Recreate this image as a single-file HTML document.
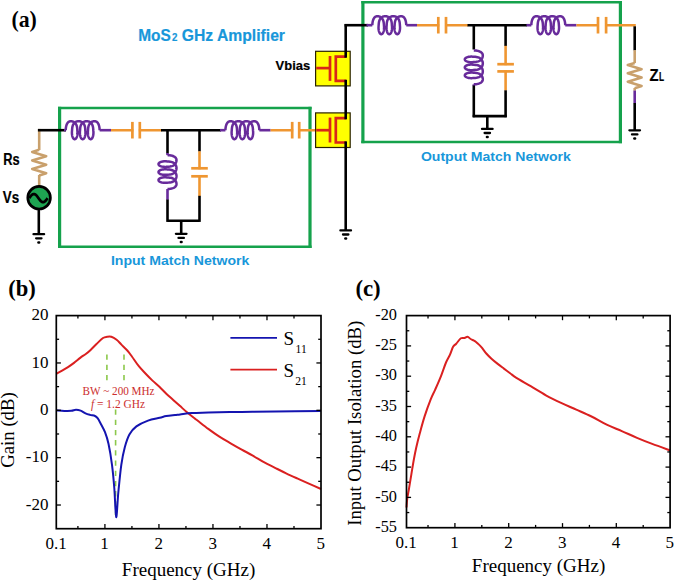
<!DOCTYPE html>
<html><head><meta charset="utf-8"><title>MoS2 GHz Amplifier</title>
<style>html,body{margin:0;padding:0;background:#fff;overflow:hidden}svg{display:block}</style>
</head><body>
<svg width="675" height="581" viewBox="0 0 675 581">
<rect width="675" height="581" fill="#fff"/>
<line x1="58" y1="108" x2="311.6" y2="108" stroke="#15a24c" stroke-width="2.4" stroke-linecap="butt"/>
<line x1="58" y1="246.8" x2="311.6" y2="246.8" stroke="#15a24c" stroke-width="2.4" stroke-linecap="butt"/>
<line x1="59.6" y1="106.8" x2="59.6" y2="248" stroke="#15a24c" stroke-width="3.2" stroke-linecap="butt"/>
<line x1="310" y1="106.8" x2="310" y2="248" stroke="#15a24c" stroke-width="3.2" stroke-linecap="butt"/>
<line x1="361.3" y1="2.2" x2="622" y2="2.2" stroke="#15a24c" stroke-width="2.4" stroke-linecap="butt"/>
<line x1="361.3" y1="142" x2="622" y2="142" stroke="#15a24c" stroke-width="2.4" stroke-linecap="butt"/>
<line x1="362.9" y1="1" x2="362.9" y2="143.2" stroke="#15a24c" stroke-width="3.2" stroke-linecap="butt"/>
<line x1="620.4" y1="1" x2="620.4" y2="143.2" stroke="#15a24c" stroke-width="3.2" stroke-linecap="butt"/>
<polyline points="39.2,149.8 32.2,151.9 46.2,156.16 32.2,160.42 46.2,164.68 32.2,168.94 46.2,173.2 39.2,175.6" fill="none" stroke="#c9a06c" stroke-width="2.6" stroke-linejoin="round" stroke-linecap="butt"/>
<line x1="39.2" y1="128.9" x2="39.2" y2="150" stroke="#c9a06c" stroke-width="2.6" stroke-linecap="butt"/>
<line x1="39.2" y1="175" x2="39.2" y2="186" stroke="#c9a06c" stroke-width="2.6" stroke-linecap="butt"/>
<line x1="37.9" y1="130.2" x2="66" y2="130.2" stroke="#000" stroke-width="2.6" stroke-linecap="butt"/>
<circle cx="39.1" cy="197.7" r="11.3" fill="#1ea552" stroke="#000" stroke-width="2.7"/>
<path d="M29.3,198.1 L29.76,197.46 L30.21,196.83 L30.67,196.24 L31.13,195.69 L31.59,195.2 L32.05,194.78 L32.5,194.45 L32.96,194.2 L33.42,194.05 L33.88,194 L34.33,194.05 L34.79,194.2 L35.25,194.45 L35.7,194.78 L36.16,195.2 L36.62,195.69 L37.08,196.24 L37.54,196.83 L37.99,197.46 L38.45,198.1 L38.91,198.74 L39.37,199.37 L39.82,199.96 L40.28,200.51 L40.74,201 L41.2,201.42 L41.65,201.75 L42.11,202 L42.57,202.15 L43.02,202.2 L43.48,202.15 L43.94,202 L44.4,201.75 L44.86,201.42 L45.31,201 L45.77,200.51 L46.23,199.96 L46.69,199.37 L47.14,198.74 L47.6,198.1" fill="none" stroke="#000" stroke-width="2.7" stroke-linejoin="round"/>
<line x1="38.8" y1="209.3" x2="38.8" y2="234.2" stroke="#000" stroke-width="2.6" stroke-linecap="butt"/>
<line x1="33.5" y1="234.2" x2="44.1" y2="234.2" stroke="#000" stroke-width="2.3" stroke-linecap="round"/>
<line x1="36.1" y1="238.3" x2="41.5" y2="238.3" stroke="#000" stroke-width="2.3" stroke-linecap="round"/>
<line x1="38.45" y1="242.4" x2="39.15" y2="242.4" stroke="#000" stroke-width="2.5" stroke-linecap="round"/>
<path d="M65.72,130.2 L65.75,129.38 L65.81,128.56 L65.91,127.76 L66.03,126.97 L66.19,126.22 L66.38,125.5 L66.6,124.82 L66.86,124.18 L67.16,123.59 L67.48,123.06 L67.85,122.59 L68.24,122.18 L68.67,121.84 L69.12,121.57 L69.6,121.37 L70.11,121.25 L70.63,121.2 L71.17,121.22 L71.71,121.28 L72.23,121.39 L72.75,121.54 L73.26,121.74 L73.74,121.98 L74.21,122.27 L74.66,122.62 L75.08,123.01 L75.47,123.45 L75.83,123.95 L76.16,124.51 L76.46,125.14 L76.72,125.86 L76.94,126.69 L77.12,127.71 L77.27,129.19 L77.38,130.79 L77.45,131.61 L77.48,132.42 L77.47,133.2 L77.43,133.97 L77.35,134.7 L77.24,135.39 L77.1,136.05 L76.93,136.65 L76.73,137.19 L76.51,137.68 L76.26,138.11 L76,138.47 L75.72,138.76 L75.43,138.98 L75.13,139.12 L74.83,139.19 L74.53,139.19 L74.22,139.11 L73.93,138.95 L73.64,138.72 L73.36,138.42 L73.1,138.05 L72.86,137.62 L72.64,137.12 L72.44,136.56 L72.28,135.95 L72.14,135.3 L72.03,134.6 L71.96,133.86 L71.92,133.09 L71.92,132.3 L71.96,131.49 L72.03,130.67 L72.15,128.91 L72.3,127.55 L72.49,126.56 L72.72,125.75 L72.98,125.05 L73.28,124.43 L73.62,123.87 L73.98,123.38 L74.38,122.95 L74.8,122.56 L75.25,122.23 L75.72,121.94 L76.22,121.71 L76.72,121.51 L77.24,121.37 L77.77,121.27 L78.31,121.21 L78.84,121.2 L79.38,121.24 L79.91,121.32 L80.44,121.45 L80.95,121.62 L81.45,121.84 L81.93,122.1 L82.39,122.41 L82.82,122.78 L83.23,123.19 L83.61,123.66 L83.96,124.18 L84.27,124.77 L84.55,125.44 L84.8,126.2 L85,127.1 L85.17,128.25 L85.3,130.32 L85.39,131.14 L85.45,131.96 L85.46,132.76 L85.44,133.54 L85.38,134.29 L85.29,135 L85.17,135.68 L85.01,136.31 L84.83,136.89 L84.62,137.41 L84.38,137.87 L84.13,138.27 L83.86,138.6 L83.58,138.86 L83.29,139.05 L82.98,139.16 L82.68,139.2 L82.38,139.16 L82.07,139.05 L81.78,138.86 L81.5,138.6 L81.23,138.27 L80.97,137.87 L80.74,137.41 L80.53,136.89 L80.35,136.31 L80.19,135.68 L80.07,135 L79.98,134.29 L79.92,133.54 L79.9,132.76 L79.91,131.96 L79.97,131.14 L80.06,130.32 L80.19,128.25 L80.36,127.1 L80.56,126.2 L80.81,125.44 L81.09,124.77 L81.4,124.18 L81.75,123.66 L82.13,123.19 L82.54,122.78 L82.97,122.41 L83.43,122.1 L83.91,121.84 L84.41,121.62 L84.92,121.45 L85.45,121.32 L85.98,121.24 L86.52,121.2 L87.05,121.21 L87.59,121.27 L88.12,121.37 L88.64,121.51 L89.14,121.71 L89.63,121.94 L90.11,122.23 L90.55,122.56 L90.98,122.95 L91.37,123.38 L91.74,123.87 L92.08,124.43 L92.38,125.05 L92.64,125.75 L92.87,126.56 L93.06,127.55 L93.21,128.91 L93.32,130.67 L93.4,131.49 L93.44,132.3 L93.44,133.09 L93.4,133.86 L93.33,134.6 L93.22,135.3 L93.08,135.95 L92.91,136.56 L92.72,137.12 L92.5,137.62 L92.26,138.05 L92,138.42 L91.72,138.72 L91.43,138.95 L91.14,139.11 L90.83,139.19 L90.53,139.19 L90.23,139.12 L89.93,138.98 L89.64,138.76 L89.36,138.47 L89.1,138.11 L88.85,137.68 L88.63,137.19 L88.43,136.65 L88.26,136.05 L88.12,135.39 L88.01,134.7 L87.93,133.97 L87.89,133.2 L87.88,132.42 L87.91,131.61 L87.98,130.79 L88.09,129.19 L88.24,127.71 L88.42,126.69 L88.64,125.86 L88.9,125.14 L89.2,124.51 L89.53,123.95 L89.89,123.45 L90.28,123.01 L90.7,122.62 L91.15,122.27 L91.62,121.98 L92.1,121.74 L92.61,121.54 L93.13,121.39 L93.65,121.28 L94.19,121.22 L94.73,121.2 L95.25,121.25 L95.76,121.37 L96.24,121.57 L96.69,121.84 L97.12,122.18 L97.51,122.59 L97.87,123.06 L98.2,123.59 L98.5,124.18 L98.76,124.82 L98.98,125.5 L99.17,126.22 L99.33,126.97 L99.45,127.76 L99.54,128.56 L99.61,129.38 L99.64,130.2" fill="none" stroke="#682b9b" stroke-width="2.5" stroke-linejoin="round"/>
<line x1="64" y1="130.2" x2="65.72" y2="130.2" stroke="#682b9b" stroke-width="2.6" stroke-linecap="butt"/>
<line x1="99.64" y1="130.2" x2="111" y2="130.2" stroke="#682b9b" stroke-width="2.6" stroke-linecap="butt"/>
<line x1="111" y1="130.2" x2="161.7" y2="130.2" stroke="#ef9631" stroke-width="2.6" stroke-linecap="butt"/>
<rect x="133.4" y="128.2" width="5.4" height="4" fill="#fff"/>
<line x1="132.4" y1="121.9" x2="132.4" y2="138.5" stroke="#ef9631" stroke-width="2.7" stroke-linecap="butt"/>
<line x1="139.8" y1="121.9" x2="139.8" y2="138.5" stroke="#ef9631" stroke-width="2.7" stroke-linecap="butt"/>
<line x1="161" y1="130.2" x2="221" y2="130.2" stroke="#000" stroke-width="2.6" stroke-linecap="butt"/>
<line x1="167.5" y1="130.2" x2="167.5" y2="153.5" stroke="#000" stroke-width="2.6" stroke-linecap="butt"/>
<path d="M167.5,155.12 L168.32,155.15 L169.14,155.21 L169.94,155.31 L170.73,155.43 L171.48,155.59 L172.2,155.78 L172.88,156 L173.52,156.26 L174.11,156.56 L174.64,156.88 L175.11,157.25 L175.52,157.64 L175.86,158.07 L176.13,158.52 L176.33,159 L176.45,159.51 L176.5,160.03 L176.48,160.57 L176.42,161.11 L176.31,161.63 L176.16,162.15 L175.96,162.66 L175.72,163.14 L175.43,163.61 L175.08,164.06 L174.69,164.48 L174.25,164.87 L173.75,165.23 L173.19,165.56 L172.56,165.86 L171.84,166.12 L171.01,166.34 L169.99,166.52 L168.51,166.67 L166.91,166.78 L166.09,166.85 L165.28,166.88 L164.5,166.87 L163.73,166.83 L163,166.75 L162.31,166.64 L161.65,166.5 L161.05,166.33 L160.51,166.13 L160.02,165.91 L159.59,165.66 L159.23,165.4 L158.94,165.12 L158.72,164.83 L158.58,164.53 L158.51,164.23 L158.51,163.93 L158.59,163.62 L158.75,163.33 L158.98,163.04 L159.28,162.76 L159.65,162.5 L160.08,162.26 L160.58,162.04 L161.14,161.84 L161.75,161.68 L162.4,161.54 L163.1,161.43 L163.84,161.36 L164.61,161.32 L165.4,161.32 L166.21,161.36 L167.03,161.43 L168.79,161.55 L170.15,161.7 L171.14,161.89 L171.95,162.12 L172.65,162.38 L173.27,162.68 L173.83,163.02 L174.32,163.38 L174.75,163.78 L175.14,164.2 L175.47,164.65 L175.76,165.12 L175.99,165.62 L176.19,166.12 L176.33,166.64 L176.43,167.17 L176.49,167.71 L176.5,168.24 L176.46,168.78 L176.38,169.31 L176.25,169.84 L176.08,170.35 L175.86,170.85 L175.6,171.33 L175.29,171.79 L174.92,172.22 L174.51,172.63 L174.04,173.01 L173.52,173.36 L172.93,173.67 L172.26,173.95 L171.5,174.2 L170.6,174.4 L169.45,174.57 L167.38,174.7 L166.56,174.79 L165.74,174.85 L164.94,174.86 L164.16,174.84 L163.41,174.78 L162.7,174.69 L162.02,174.57 L161.39,174.41 L160.81,174.23 L160.29,174.02 L159.83,173.78 L159.43,173.53 L159.1,173.26 L158.84,172.98 L158.65,172.69 L158.54,172.38 L158.5,172.08 L158.54,171.78 L158.65,171.47 L158.84,171.18 L159.1,170.9 L159.43,170.63 L159.83,170.37 L160.29,170.14 L160.81,169.93 L161.39,169.75 L162.02,169.59 L162.7,169.47 L163.41,169.38 L164.16,169.32 L164.94,169.3 L165.74,169.31 L166.56,169.37 L167.38,169.46 L169.45,169.59 L170.6,169.76 L171.5,169.96 L172.26,170.21 L172.93,170.49 L173.52,170.8 L174.04,171.15 L174.51,171.53 L174.92,171.94 L175.29,172.37 L175.6,172.83 L175.86,173.31 L176.08,173.81 L176.25,174.32 L176.38,174.85 L176.46,175.38 L176.5,175.92 L176.49,176.45 L176.43,176.99 L176.33,177.52 L176.19,178.04 L175.99,178.54 L175.76,179.03 L175.47,179.51 L175.14,179.95 L174.75,180.38 L174.32,180.77 L173.83,181.14 L173.27,181.48 L172.65,181.78 L171.95,182.04 L171.14,182.27 L170.15,182.46 L168.79,182.61 L167.03,182.72 L166.21,182.8 L165.4,182.84 L164.61,182.84 L163.84,182.8 L163.1,182.73 L162.4,182.62 L161.75,182.48 L161.14,182.31 L160.58,182.12 L160.08,181.9 L159.65,181.66 L159.28,181.4 L158.98,181.12 L158.75,180.83 L158.59,180.54 L158.51,180.23 L158.51,179.93 L158.58,179.63 L158.72,179.33 L158.94,179.04 L159.23,178.76 L159.59,178.5 L160.02,178.25 L160.51,178.03 L161.05,177.83 L161.65,177.66 L162.31,177.52 L163,177.41 L163.73,177.33 L164.5,177.29 L165.28,177.28 L166.09,177.31 L166.91,177.38 L168.51,177.49 L169.99,177.64 L171.01,177.82 L171.84,178.04 L172.56,178.3 L173.19,178.6 L173.75,178.93 L174.25,179.29 L174.69,179.68 L175.08,180.1 L175.43,180.55 L175.72,181.02 L175.96,181.5 L176.16,182.01 L176.31,182.53 L176.42,183.05 L176.48,183.59 L176.5,184.13 L176.45,184.65 L176.33,185.16 L176.13,185.64 L175.86,186.09 L175.52,186.52 L175.11,186.91 L174.64,187.27 L174.11,187.6 L173.52,187.9 L172.88,188.16 L172.2,188.38 L171.48,188.57 L170.73,188.73 L169.94,188.85 L169.14,188.94 L168.32,189.01 L167.5,189.04" fill="none" stroke="#682b9b" stroke-width="2.5" stroke-linejoin="round"/>
<line x1="167.5" y1="153" x2="167.5" y2="155.12" stroke="#682b9b" stroke-width="2.6" stroke-linecap="butt"/>
<line x1="167.5" y1="189.04" x2="167.5" y2="199.8" stroke="#682b9b" stroke-width="2.6" stroke-linecap="butt"/>
<line x1="167.5" y1="199.5" x2="167.5" y2="221.9" stroke="#000" stroke-width="2.6" stroke-linecap="butt"/>
<line x1="199.5" y1="130.2" x2="199.5" y2="151.5" stroke="#000" stroke-width="2.6" stroke-linecap="butt"/>
<line x1="199.5" y1="151.3" x2="199.5" y2="196" stroke="#ef9631" stroke-width="2.6" stroke-linecap="butt"/>
<rect x="197.5" y="169.3" width="4" height="6" fill="#fff"/>
<line x1="191.2" y1="168.3" x2="207.8" y2="168.3" stroke="#ef9631" stroke-width="2.7" stroke-linecap="butt"/>
<line x1="191.2" y1="176.3" x2="207.8" y2="176.3" stroke="#ef9631" stroke-width="2.7" stroke-linecap="butt"/>
<line x1="199.5" y1="195.8" x2="199.5" y2="221.9" stroke="#000" stroke-width="2.6" stroke-linecap="butt"/>
<polyline points="167.5,220.8 199.5,220.8" fill="none" stroke="#000" stroke-width="2.6" stroke-linejoin="miter" stroke-linecap="butt"/>
<line x1="181.2" y1="220.8" x2="181.2" y2="233.8" stroke="#000" stroke-width="2.6" stroke-linecap="butt"/>
<line x1="175.9" y1="233.8" x2="186.5" y2="233.8" stroke="#000" stroke-width="2.3" stroke-linecap="round"/>
<line x1="178.5" y1="237.9" x2="183.9" y2="237.9" stroke="#000" stroke-width="2.3" stroke-linecap="round"/>
<line x1="180.85" y1="242" x2="181.55" y2="242" stroke="#000" stroke-width="2.5" stroke-linecap="round"/>
<path d="M225.42,130.2 L225.45,129.38 L225.51,128.56 L225.61,127.76 L225.73,126.97 L225.89,126.22 L226.08,125.5 L226.3,124.82 L226.56,124.18 L226.86,123.59 L227.18,123.06 L227.55,122.59 L227.94,122.18 L228.37,121.84 L228.82,121.57 L229.3,121.37 L229.81,121.25 L230.33,121.2 L230.87,121.22 L231.41,121.28 L231.93,121.39 L232.45,121.54 L232.96,121.74 L233.44,121.98 L233.91,122.27 L234.36,122.62 L234.78,123.01 L235.17,123.45 L235.53,123.95 L235.86,124.51 L236.16,125.14 L236.42,125.86 L236.64,126.69 L236.82,127.71 L236.97,129.19 L237.08,130.79 L237.15,131.61 L237.18,132.42 L237.17,133.2 L237.13,133.97 L237.05,134.7 L236.94,135.39 L236.8,136.05 L236.63,136.65 L236.43,137.19 L236.21,137.68 L235.96,138.11 L235.7,138.47 L235.42,138.76 L235.13,138.98 L234.83,139.12 L234.53,139.19 L234.23,139.19 L233.92,139.11 L233.63,138.95 L233.34,138.72 L233.06,138.42 L232.8,138.05 L232.56,137.62 L232.34,137.12 L232.14,136.56 L231.98,135.95 L231.84,135.3 L231.73,134.6 L231.66,133.86 L231.62,133.09 L231.62,132.3 L231.66,131.49 L231.73,130.67 L231.85,128.91 L232,127.55 L232.19,126.56 L232.42,125.75 L232.68,125.05 L232.98,124.43 L233.32,123.87 L233.68,123.38 L234.08,122.95 L234.5,122.56 L234.95,122.23 L235.42,121.94 L235.92,121.71 L236.42,121.51 L236.94,121.37 L237.47,121.27 L238.01,121.21 L238.54,121.2 L239.08,121.24 L239.61,121.32 L240.14,121.45 L240.65,121.62 L241.15,121.84 L241.63,122.1 L242.09,122.41 L242.52,122.78 L242.93,123.19 L243.31,123.66 L243.66,124.18 L243.97,124.77 L244.25,125.44 L244.5,126.2 L244.7,127.1 L244.87,128.25 L245,130.32 L245.09,131.14 L245.15,131.96 L245.16,132.76 L245.14,133.54 L245.08,134.29 L244.99,135 L244.87,135.68 L244.71,136.31 L244.53,136.89 L244.32,137.41 L244.08,137.87 L243.83,138.27 L243.56,138.6 L243.28,138.86 L242.99,139.05 L242.68,139.16 L242.38,139.2 L242.08,139.16 L241.77,139.05 L241.48,138.86 L241.2,138.6 L240.93,138.27 L240.67,137.87 L240.44,137.41 L240.23,136.89 L240.05,136.31 L239.89,135.68 L239.77,135 L239.68,134.29 L239.62,133.54 L239.6,132.76 L239.61,131.96 L239.67,131.14 L239.76,130.32 L239.89,128.25 L240.06,127.1 L240.26,126.2 L240.51,125.44 L240.79,124.77 L241.1,124.18 L241.45,123.66 L241.83,123.19 L242.24,122.78 L242.67,122.41 L243.13,122.1 L243.61,121.84 L244.11,121.62 L244.62,121.45 L245.15,121.32 L245.68,121.24 L246.22,121.2 L246.75,121.21 L247.29,121.27 L247.82,121.37 L248.34,121.51 L248.84,121.71 L249.33,121.94 L249.81,122.23 L250.25,122.56 L250.68,122.95 L251.07,123.38 L251.44,123.87 L251.78,124.43 L252.08,125.05 L252.34,125.75 L252.57,126.56 L252.76,127.55 L252.91,128.91 L253.02,130.67 L253.1,131.49 L253.14,132.3 L253.14,133.09 L253.1,133.86 L253.03,134.6 L252.92,135.3 L252.78,135.95 L252.61,136.56 L252.42,137.12 L252.2,137.62 L251.96,138.05 L251.7,138.42 L251.42,138.72 L251.13,138.95 L250.84,139.11 L250.53,139.19 L250.23,139.19 L249.93,139.12 L249.63,138.98 L249.34,138.76 L249.06,138.47 L248.8,138.11 L248.55,137.68 L248.33,137.19 L248.13,136.65 L247.96,136.05 L247.82,135.39 L247.71,134.7 L247.63,133.97 L247.59,133.2 L247.58,132.42 L247.61,131.61 L247.68,130.79 L247.79,129.19 L247.94,127.71 L248.12,126.69 L248.34,125.86 L248.6,125.14 L248.9,124.51 L249.23,123.95 L249.59,123.45 L249.98,123.01 L250.4,122.62 L250.85,122.27 L251.32,121.98 L251.8,121.74 L252.31,121.54 L252.83,121.39 L253.35,121.28 L253.89,121.22 L254.43,121.2 L254.95,121.25 L255.46,121.37 L255.94,121.57 L256.39,121.84 L256.82,122.18 L257.21,122.59 L257.57,123.06 L257.9,123.59 L258.2,124.18 L258.46,124.82 L258.68,125.5 L258.87,126.22 L259.03,126.97 L259.15,127.76 L259.24,128.56 L259.31,129.38 L259.34,130.2" fill="none" stroke="#682b9b" stroke-width="2.5" stroke-linejoin="round"/>
<line x1="220" y1="130.2" x2="225.42" y2="130.2" stroke="#682b9b" stroke-width="2.6" stroke-linecap="butt"/>
<line x1="259.34" y1="130.2" x2="270.6" y2="130.2" stroke="#682b9b" stroke-width="2.6" stroke-linecap="butt"/>
<line x1="270.6" y1="130.2" x2="317.5" y2="130.2" stroke="#ef9631" stroke-width="2.6" stroke-linecap="butt"/>
<rect x="293.2" y="128.2" width="5" height="4" fill="#fff"/>
<line x1="292.2" y1="121.9" x2="292.2" y2="138.5" stroke="#ef9631" stroke-width="2.7" stroke-linecap="butt"/>
<line x1="299.2" y1="121.9" x2="299.2" y2="138.5" stroke="#ef9631" stroke-width="2.7" stroke-linecap="butt"/>
<rect x="315.6" y="112.9" width="34.6" height="34.6" fill="#ffff00" stroke="#2a2200" stroke-width="1.2"/>
<line x1="316.2" y1="130.2" x2="330.1" y2="130.2" stroke="#d8261a" stroke-width="2.7" stroke-linecap="butt"/>
<line x1="330" y1="117.6" x2="330" y2="142.5" stroke="#d8261a" stroke-width="2.7" stroke-linecap="butt"/>
<polyline points="346.2,118.2 335.8,118.2 335.8,142.5 346.2,142.5" fill="none" stroke="#d8261a" stroke-width="2.7" stroke-linejoin="miter" stroke-linecap="butt"/>
<rect x="315.6" y="51.3" width="34.6" height="34.6" fill="#ffff00" stroke="#2a2200" stroke-width="1.2"/>
<line x1="316.2" y1="68.1" x2="330.1" y2="68.1" stroke="#d8261a" stroke-width="2.7" stroke-linecap="butt"/>
<line x1="330" y1="56" x2="330" y2="80.9" stroke="#d8261a" stroke-width="2.7" stroke-linecap="butt"/>
<polyline points="346.2,56.6 335.8,56.6 335.8,80.9 346.2,80.9" fill="none" stroke="#d8261a" stroke-width="2.7" stroke-linejoin="miter" stroke-linecap="butt"/>
<line x1="345.7" y1="24.1" x2="345.7" y2="57.7" stroke="#000" stroke-width="2.6" stroke-linecap="butt"/>
<line x1="345.7" y1="79.8" x2="345.7" y2="119.3" stroke="#000" stroke-width="2.6" stroke-linecap="butt"/>
<line x1="345.7" y1="141.4" x2="345.7" y2="230.4" stroke="#000" stroke-width="2.6" stroke-linecap="butt"/>
<line x1="344.6" y1="25.2" x2="368" y2="25.2" stroke="#000" stroke-width="2.6" stroke-linecap="butt"/>
<line x1="340.4" y1="230.4" x2="351" y2="230.4" stroke="#000" stroke-width="2.3" stroke-linecap="round"/>
<line x1="343" y1="234.5" x2="348.4" y2="234.5" stroke="#000" stroke-width="2.3" stroke-linecap="round"/>
<line x1="345.35" y1="238.6" x2="346.05" y2="238.6" stroke="#000" stroke-width="2.5" stroke-linecap="round"/>
<path d="M372.32,25.2 L372.35,24.38 L372.41,23.56 L372.51,22.76 L372.63,21.97 L372.79,21.22 L372.98,20.5 L373.2,19.82 L373.46,19.18 L373.76,18.59 L374.08,18.06 L374.45,17.59 L374.84,17.18 L375.27,16.84 L375.72,16.57 L376.2,16.37 L376.71,16.25 L377.23,16.2 L377.77,16.22 L378.31,16.28 L378.83,16.39 L379.35,16.54 L379.86,16.74 L380.34,16.98 L380.81,17.27 L381.26,17.62 L381.68,18.01 L382.07,18.45 L382.43,18.95 L382.76,19.51 L383.06,20.14 L383.32,20.86 L383.54,21.69 L383.72,22.71 L383.87,24.19 L383.98,25.79 L384.05,26.61 L384.08,27.42 L384.07,28.2 L384.03,28.97 L383.95,29.7 L383.84,30.39 L383.7,31.05 L383.53,31.65 L383.33,32.19 L383.11,32.68 L382.86,33.11 L382.6,33.47 L382.32,33.76 L382.03,33.98 L381.73,34.12 L381.43,34.19 L381.13,34.19 L380.82,34.11 L380.53,33.95 L380.24,33.72 L379.96,33.42 L379.7,33.05 L379.46,32.62 L379.24,32.12 L379.04,31.56 L378.88,30.95 L378.74,30.3 L378.63,29.6 L378.56,28.86 L378.52,28.09 L378.52,27.3 L378.56,26.49 L378.63,25.67 L378.75,23.91 L378.9,22.55 L379.09,21.56 L379.32,20.75 L379.58,20.05 L379.88,19.43 L380.22,18.87 L380.58,18.38 L380.98,17.95 L381.4,17.56 L381.85,17.23 L382.32,16.94 L382.82,16.71 L383.32,16.51 L383.84,16.37 L384.37,16.27 L384.91,16.21 L385.44,16.2 L385.98,16.24 L386.51,16.32 L387.04,16.45 L387.55,16.62 L388.05,16.84 L388.53,17.1 L388.99,17.41 L389.42,17.78 L389.83,18.19 L390.21,18.66 L390.56,19.18 L390.87,19.77 L391.15,20.44 L391.4,21.2 L391.6,22.1 L391.77,23.25 L391.9,25.32 L391.99,26.14 L392.05,26.96 L392.06,27.76 L392.04,28.54 L391.98,29.29 L391.89,30 L391.77,30.68 L391.61,31.31 L391.43,31.89 L391.22,32.41 L390.98,32.87 L390.73,33.27 L390.46,33.6 L390.18,33.86 L389.89,34.05 L389.58,34.16 L389.28,34.2 L388.98,34.16 L388.67,34.05 L388.38,33.86 L388.1,33.6 L387.83,33.27 L387.57,32.87 L387.34,32.41 L387.13,31.89 L386.95,31.31 L386.79,30.68 L386.67,30 L386.58,29.29 L386.52,28.54 L386.5,27.76 L386.51,26.96 L386.57,26.14 L386.66,25.32 L386.79,23.25 L386.96,22.1 L387.16,21.2 L387.41,20.44 L387.69,19.77 L388,19.18 L388.35,18.66 L388.73,18.19 L389.14,17.78 L389.57,17.41 L390.03,17.1 L390.51,16.84 L391.01,16.62 L391.52,16.45 L392.05,16.32 L392.58,16.24 L393.12,16.2 L393.65,16.21 L394.19,16.27 L394.72,16.37 L395.24,16.51 L395.74,16.71 L396.23,16.94 L396.71,17.23 L397.15,17.56 L397.58,17.95 L397.97,18.38 L398.34,18.87 L398.68,19.43 L398.98,20.05 L399.24,20.75 L399.47,21.56 L399.66,22.55 L399.81,23.91 L399.92,25.67 L400,26.49 L400.04,27.3 L400.04,28.09 L400,28.86 L399.93,29.6 L399.82,30.3 L399.68,30.95 L399.51,31.56 L399.32,32.12 L399.1,32.62 L398.86,33.05 L398.6,33.42 L398.32,33.72 L398.03,33.95 L397.74,34.11 L397.43,34.19 L397.13,34.19 L396.83,34.12 L396.53,33.98 L396.24,33.76 L395.96,33.47 L395.7,33.11 L395.45,32.68 L395.23,32.19 L395.03,31.65 L394.86,31.05 L394.72,30.39 L394.61,29.7 L394.53,28.97 L394.49,28.2 L394.48,27.42 L394.51,26.61 L394.58,25.79 L394.69,24.19 L394.84,22.71 L395.02,21.69 L395.24,20.86 L395.5,20.14 L395.8,19.51 L396.13,18.95 L396.49,18.45 L396.88,18.01 L397.3,17.62 L397.75,17.27 L398.22,16.98 L398.7,16.74 L399.21,16.54 L399.73,16.39 L400.25,16.28 L400.79,16.22 L401.33,16.2 L401.85,16.25 L402.36,16.37 L402.84,16.57 L403.29,16.84 L403.72,17.18 L404.11,17.59 L404.47,18.06 L404.8,18.59 L405.1,19.18 L405.36,19.82 L405.58,20.5 L405.77,21.22 L405.93,21.97 L406.05,22.76 L406.14,23.56 L406.21,24.38 L406.24,25.2" fill="none" stroke="#682b9b" stroke-width="2.5" stroke-linejoin="round"/>
<line x1="366.5" y1="25.2" x2="372.32" y2="25.2" stroke="#682b9b" stroke-width="2.6" stroke-linecap="butt"/>
<line x1="406.24" y1="25.2" x2="417" y2="25.2" stroke="#682b9b" stroke-width="2.6" stroke-linecap="butt"/>
<line x1="417" y1="25.2" x2="468" y2="25.2" stroke="#ef9631" stroke-width="2.6" stroke-linecap="butt"/>
<rect x="439.3" y="23.2" width="5.7" height="4" fill="#fff"/>
<line x1="438.3" y1="16.9" x2="438.3" y2="33.5" stroke="#ef9631" stroke-width="2.7" stroke-linecap="butt"/>
<line x1="446" y1="16.9" x2="446" y2="33.5" stroke="#ef9631" stroke-width="2.7" stroke-linecap="butt"/>
<line x1="467.5" y1="25.2" x2="527" y2="25.2" stroke="#000" stroke-width="2.6" stroke-linecap="butt"/>
<line x1="473.8" y1="25.2" x2="473.8" y2="49.5" stroke="#000" stroke-width="2.6" stroke-linecap="butt"/>
<path d="M473.8,50.42 L474.62,50.45 L475.44,50.51 L476.24,50.61 L477.03,50.73 L477.78,50.89 L478.5,51.08 L479.18,51.3 L479.82,51.56 L480.41,51.86 L480.94,52.18 L481.41,52.55 L481.82,52.94 L482.16,53.37 L482.43,53.82 L482.63,54.3 L482.75,54.81 L482.8,55.33 L482.78,55.87 L482.72,56.41 L482.61,56.93 L482.46,57.45 L482.26,57.96 L482.02,58.44 L481.73,58.91 L481.38,59.36 L480.99,59.78 L480.55,60.17 L480.05,60.53 L479.49,60.86 L478.86,61.16 L478.14,61.42 L477.31,61.64 L476.29,61.82 L474.81,61.97 L473.21,62.08 L472.39,62.15 L471.58,62.18 L470.8,62.17 L470.03,62.13 L469.3,62.05 L468.61,61.94 L467.95,61.8 L467.35,61.63 L466.81,61.43 L466.32,61.21 L465.89,60.96 L465.53,60.7 L465.24,60.42 L465.02,60.13 L464.88,59.83 L464.81,59.53 L464.81,59.23 L464.89,58.92 L465.05,58.63 L465.28,58.34 L465.58,58.06 L465.95,57.8 L466.38,57.56 L466.88,57.34 L467.44,57.14 L468.05,56.98 L468.7,56.84 L469.4,56.73 L470.14,56.66 L470.91,56.62 L471.7,56.62 L472.51,56.66 L473.33,56.73 L475.09,56.85 L476.45,57 L477.44,57.19 L478.25,57.42 L478.95,57.68 L479.57,57.98 L480.13,58.32 L480.62,58.68 L481.05,59.08 L481.44,59.5 L481.77,59.95 L482.06,60.42 L482.29,60.92 L482.49,61.42 L482.63,61.94 L482.73,62.47 L482.79,63.01 L482.8,63.54 L482.76,64.08 L482.68,64.61 L482.55,65.14 L482.38,65.65 L482.16,66.15 L481.9,66.63 L481.59,67.09 L481.22,67.52 L480.81,67.93 L480.34,68.31 L479.82,68.66 L479.23,68.97 L478.56,69.25 L477.8,69.5 L476.9,69.7 L475.75,69.87 L473.68,70 L472.86,70.09 L472.04,70.15 L471.24,70.16 L470.46,70.14 L469.71,70.08 L469,69.99 L468.32,69.87 L467.69,69.71 L467.11,69.53 L466.59,69.32 L466.13,69.08 L465.73,68.83 L465.4,68.56 L465.14,68.28 L464.95,67.99 L464.84,67.68 L464.8,67.38 L464.84,67.08 L464.95,66.77 L465.14,66.48 L465.4,66.2 L465.73,65.93 L466.13,65.67 L466.59,65.44 L467.11,65.23 L467.69,65.05 L468.32,64.89 L469,64.77 L469.71,64.68 L470.46,64.62 L471.24,64.6 L472.04,64.61 L472.86,64.67 L473.68,64.76 L475.75,64.89 L476.9,65.06 L477.8,65.26 L478.56,65.51 L479.23,65.79 L479.82,66.1 L480.34,66.45 L480.81,66.83 L481.22,67.24 L481.59,67.67 L481.9,68.13 L482.16,68.61 L482.38,69.11 L482.55,69.62 L482.68,70.15 L482.76,70.68 L482.8,71.22 L482.79,71.75 L482.73,72.29 L482.63,72.82 L482.49,73.34 L482.29,73.84 L482.06,74.33 L481.77,74.81 L481.44,75.25 L481.05,75.68 L480.62,76.07 L480.13,76.44 L479.57,76.78 L478.95,77.08 L478.25,77.34 L477.44,77.57 L476.45,77.76 L475.09,77.91 L473.33,78.02 L472.51,78.1 L471.7,78.14 L470.91,78.14 L470.14,78.1 L469.4,78.03 L468.7,77.92 L468.05,77.78 L467.44,77.61 L466.88,77.42 L466.38,77.2 L465.95,76.96 L465.58,76.7 L465.28,76.42 L465.05,76.13 L464.89,75.84 L464.81,75.53 L464.81,75.23 L464.88,74.93 L465.02,74.63 L465.24,74.34 L465.53,74.06 L465.89,73.8 L466.32,73.55 L466.81,73.33 L467.35,73.13 L467.95,72.96 L468.61,72.82 L469.3,72.71 L470.03,72.63 L470.8,72.59 L471.58,72.58 L472.39,72.61 L473.21,72.68 L474.81,72.79 L476.29,72.94 L477.31,73.12 L478.14,73.34 L478.86,73.6 L479.49,73.9 L480.05,74.23 L480.55,74.59 L480.99,74.98 L481.38,75.4 L481.73,75.85 L482.02,76.32 L482.26,76.8 L482.46,77.31 L482.61,77.83 L482.72,78.35 L482.78,78.89 L482.8,79.43 L482.75,79.95 L482.63,80.46 L482.43,80.94 L482.16,81.39 L481.82,81.82 L481.41,82.21 L480.94,82.57 L480.41,82.9 L479.82,83.2 L479.18,83.46 L478.5,83.68 L477.78,83.87 L477.03,84.03 L476.24,84.15 L475.44,84.24 L474.62,84.31 L473.8,84.34" fill="none" stroke="#682b9b" stroke-width="2.5" stroke-linejoin="round"/>
<line x1="473.8" y1="84.34" x2="473.8" y2="86" stroke="#682b9b" stroke-width="2.6" stroke-linecap="butt"/>
<line x1="473.8" y1="85.5" x2="473.8" y2="117.2" stroke="#000" stroke-width="2.6" stroke-linecap="butt"/>
<line x1="505.6" y1="25.2" x2="505.6" y2="46" stroke="#000" stroke-width="2.6" stroke-linecap="butt"/>
<line x1="505.6" y1="45.8" x2="505.6" y2="90.5" stroke="#ef9631" stroke-width="2.6" stroke-linecap="butt"/>
<rect x="503.6" y="65.2" width="4" height="5.2" fill="#fff"/>
<line x1="497.3" y1="64.2" x2="513.9" y2="64.2" stroke="#ef9631" stroke-width="2.7" stroke-linecap="butt"/>
<line x1="497.3" y1="71.4" x2="513.9" y2="71.4" stroke="#ef9631" stroke-width="2.7" stroke-linecap="butt"/>
<line x1="505.6" y1="90.3" x2="505.6" y2="117.2" stroke="#000" stroke-width="2.6" stroke-linecap="butt"/>
<line x1="472.7" y1="116.1" x2="506.7" y2="116.1" stroke="#000" stroke-width="2.6" stroke-linecap="butt"/>
<line x1="487.3" y1="116.1" x2="487.3" y2="128.9" stroke="#000" stroke-width="2.6" stroke-linecap="butt"/>
<line x1="482" y1="128.9" x2="492.6" y2="128.9" stroke="#000" stroke-width="2.3" stroke-linecap="round"/>
<line x1="484.6" y1="133" x2="490" y2="133" stroke="#000" stroke-width="2.3" stroke-linecap="round"/>
<line x1="486.95" y1="137.1" x2="487.65" y2="137.1" stroke="#000" stroke-width="2.5" stroke-linecap="round"/>
<path d="M531.32,25.2 L531.35,24.38 L531.41,23.56 L531.51,22.76 L531.63,21.97 L531.79,21.22 L531.98,20.5 L532.2,19.82 L532.46,19.18 L532.76,18.59 L533.08,18.06 L533.45,17.59 L533.84,17.18 L534.27,16.84 L534.72,16.57 L535.2,16.37 L535.71,16.25 L536.23,16.2 L536.77,16.22 L537.31,16.28 L537.83,16.39 L538.35,16.54 L538.86,16.74 L539.34,16.98 L539.81,17.27 L540.26,17.62 L540.68,18.01 L541.07,18.45 L541.43,18.95 L541.76,19.51 L542.06,20.14 L542.32,20.86 L542.54,21.69 L542.72,22.71 L542.87,24.19 L542.98,25.79 L543.05,26.61 L543.08,27.42 L543.07,28.2 L543.03,28.97 L542.95,29.7 L542.84,30.39 L542.7,31.05 L542.53,31.65 L542.33,32.19 L542.11,32.68 L541.86,33.11 L541.6,33.47 L541.32,33.76 L541.03,33.98 L540.73,34.12 L540.43,34.19 L540.13,34.19 L539.82,34.11 L539.53,33.95 L539.24,33.72 L538.96,33.42 L538.7,33.05 L538.46,32.62 L538.24,32.12 L538.04,31.56 L537.88,30.95 L537.74,30.3 L537.63,29.6 L537.56,28.86 L537.52,28.09 L537.52,27.3 L537.56,26.49 L537.63,25.67 L537.75,23.91 L537.9,22.55 L538.09,21.56 L538.32,20.75 L538.58,20.05 L538.88,19.43 L539.22,18.87 L539.58,18.38 L539.98,17.95 L540.4,17.56 L540.85,17.23 L541.32,16.94 L541.82,16.71 L542.32,16.51 L542.84,16.37 L543.37,16.27 L543.91,16.21 L544.44,16.2 L544.98,16.24 L545.51,16.32 L546.04,16.45 L546.55,16.62 L547.05,16.84 L547.53,17.1 L547.99,17.41 L548.42,17.78 L548.83,18.19 L549.21,18.66 L549.56,19.18 L549.87,19.77 L550.15,20.44 L550.4,21.2 L550.6,22.1 L550.77,23.25 L550.9,25.32 L550.99,26.14 L551.05,26.96 L551.06,27.76 L551.04,28.54 L550.98,29.29 L550.89,30 L550.77,30.68 L550.61,31.31 L550.43,31.89 L550.22,32.41 L549.98,32.87 L549.73,33.27 L549.46,33.6 L549.18,33.86 L548.89,34.05 L548.58,34.16 L548.28,34.2 L547.98,34.16 L547.67,34.05 L547.38,33.86 L547.1,33.6 L546.83,33.27 L546.57,32.87 L546.34,32.41 L546.13,31.89 L545.95,31.31 L545.79,30.68 L545.67,30 L545.58,29.29 L545.52,28.54 L545.5,27.76 L545.51,26.96 L545.57,26.14 L545.66,25.32 L545.79,23.25 L545.96,22.1 L546.16,21.2 L546.41,20.44 L546.69,19.77 L547,19.18 L547.35,18.66 L547.73,18.19 L548.14,17.78 L548.57,17.41 L549.03,17.1 L549.51,16.84 L550.01,16.62 L550.52,16.45 L551.05,16.32 L551.58,16.24 L552.12,16.2 L552.65,16.21 L553.19,16.27 L553.72,16.37 L554.24,16.51 L554.74,16.71 L555.23,16.94 L555.71,17.23 L556.15,17.56 L556.58,17.95 L556.97,18.38 L557.34,18.87 L557.68,19.43 L557.98,20.05 L558.24,20.75 L558.47,21.56 L558.66,22.55 L558.81,23.91 L558.92,25.67 L559,26.49 L559.04,27.3 L559.04,28.09 L559,28.86 L558.93,29.6 L558.82,30.3 L558.68,30.95 L558.51,31.56 L558.32,32.12 L558.1,32.62 L557.86,33.05 L557.6,33.42 L557.32,33.72 L557.03,33.95 L556.74,34.11 L556.43,34.19 L556.13,34.19 L555.83,34.12 L555.53,33.98 L555.24,33.76 L554.96,33.47 L554.7,33.11 L554.45,32.68 L554.23,32.19 L554.03,31.65 L553.86,31.05 L553.72,30.39 L553.61,29.7 L553.53,28.97 L553.49,28.2 L553.48,27.42 L553.51,26.61 L553.58,25.79 L553.69,24.19 L553.84,22.71 L554.02,21.69 L554.24,20.86 L554.5,20.14 L554.8,19.51 L555.13,18.95 L555.49,18.45 L555.88,18.01 L556.3,17.62 L556.75,17.27 L557.22,16.98 L557.7,16.74 L558.21,16.54 L558.73,16.39 L559.25,16.28 L559.79,16.22 L560.33,16.2 L560.85,16.25 L561.36,16.37 L561.84,16.57 L562.29,16.84 L562.72,17.18 L563.11,17.59 L563.47,18.06 L563.8,18.59 L564.1,19.18 L564.36,19.82 L564.58,20.5 L564.77,21.22 L564.93,21.97 L565.05,22.76 L565.14,23.56 L565.21,24.38 L565.24,25.2" fill="none" stroke="#682b9b" stroke-width="2.5" stroke-linejoin="round"/>
<line x1="526.5" y1="25.2" x2="531.32" y2="25.2" stroke="#682b9b" stroke-width="2.6" stroke-linecap="butt"/>
<line x1="565.24" y1="25.2" x2="576.5" y2="25.2" stroke="#682b9b" stroke-width="2.6" stroke-linecap="butt"/>
<line x1="576.5" y1="25.2" x2="635.8" y2="25.2" stroke="#ef9631" stroke-width="2.6" stroke-linecap="butt"/>
<rect x="599" y="23.2" width="6.1" height="4" fill="#fff"/>
<line x1="598" y1="16.9" x2="598" y2="33.5" stroke="#ef9631" stroke-width="2.7" stroke-linecap="butt"/>
<line x1="606.1" y1="16.9" x2="606.1" y2="33.5" stroke="#ef9631" stroke-width="2.7" stroke-linecap="butt"/>
<line x1="634.7" y1="26.3" x2="634.7" y2="50.4" stroke="#000" stroke-width="2.6" stroke-linecap="butt"/>
<line x1="634.7" y1="50.2" x2="634.7" y2="63.1" stroke="#c9a06c" stroke-width="2.6" stroke-linecap="butt"/>
<polyline points="634.7,62.9 627.8,65 641.6,69.18 627.8,73.36 641.6,77.54 627.8,81.72 641.6,85.9 634.7,88.3" fill="none" stroke="#c9a06c" stroke-width="2.6" stroke-linejoin="round" stroke-linecap="butt"/>
<line x1="634.7" y1="88" x2="634.7" y2="90.8" stroke="#c9a06c" stroke-width="2.6" stroke-linecap="butt"/>
<line x1="634.7" y1="90.6" x2="634.7" y2="103.2" stroke="#682b9b" stroke-width="2.6" stroke-linecap="butt"/>
<line x1="634.7" y1="103" x2="634.7" y2="130.3" stroke="#000" stroke-width="2.6" stroke-linecap="butt"/>
<line x1="629.4" y1="130.3" x2="640" y2="130.3" stroke="#000" stroke-width="2.3" stroke-linecap="round"/>
<line x1="632" y1="134.4" x2="637.4" y2="134.4" stroke="#000" stroke-width="2.3" stroke-linecap="round"/>
<line x1="634.35" y1="138.5" x2="635.05" y2="138.5" stroke="#000" stroke-width="2.5" stroke-linecap="round"/>
<text x="138.2" y="40.9" style="font-family:&quot;Liberation Sans&quot;,sans-serif;font-weight:bold;font-size:15.6px" fill="#1897da" stroke="#1897da" stroke-width="0.2" textLength="32.6" lengthAdjust="spacingAndGlyphs" >MoS</text>
<text x="171.9" y="40.9" style="font-family:&quot;Liberation Sans&quot;,sans-serif;font-weight:bold;font-size:10.2px" fill="#1897da" stroke="#1897da" stroke-width="0.2" textLength="5.4" lengthAdjust="spacingAndGlyphs" >2</text>
<text x="181.7" y="40.9" style="font-family:&quot;Liberation Sans&quot;,sans-serif;font-weight:bold;font-size:15.6px" fill="#1897da" stroke="#1897da" stroke-width="0.2" textLength="103.3" lengthAdjust="spacingAndGlyphs" >GHz Amplifier</text>
<text x="275.6" y="70.3" style="font-family:&quot;Liberation Sans&quot;,sans-serif;font-weight:bold;font-size:13.4px" fill="#000" stroke="#000" stroke-width="0.2" textLength="34.6" lengthAdjust="spacingAndGlyphs" >Vbias</text>
<text x="3.2" y="165" style="font-family:&quot;Liberation Sans&quot;,sans-serif;font-weight:bold;font-size:15.8px" fill="#000" stroke="#000" stroke-width="0.2" textLength="16.4" lengthAdjust="spacingAndGlyphs" >Rs</text>
<text x="2.8" y="203.1" style="font-family:&quot;Liberation Sans&quot;,sans-serif;font-weight:bold;font-size:15.8px" fill="#000" stroke="#000" stroke-width="0.2" textLength="16.4" lengthAdjust="spacingAndGlyphs" >Vs</text>
<text x="649.6" y="80.7" style="font-family:&quot;Liberation Sans&quot;,sans-serif;font-weight:bold;font-size:16.8px" fill="#000" stroke="#000" stroke-width="0.2" textLength="9.1" lengthAdjust="spacingAndGlyphs" >Z</text>
<text x="659" y="80.7" style="font-family:&quot;Liberation Sans&quot;,sans-serif;font-weight:bold;font-size:12.4px" fill="#000" stroke="#000" stroke-width="0.2" textLength="5.1" lengthAdjust="spacingAndGlyphs" >L</text>
<text x="110.9" y="265.1" style="font-family:&quot;Liberation Sans&quot;,sans-serif;font-weight:bold;font-size:13.6px" fill="#1897da" stroke="#1897da" stroke-width="0" textLength="138.4" lengthAdjust="spacingAndGlyphs" >Input Match Network</text>
<text x="420.9" y="160.6" style="font-family:&quot;Liberation Sans&quot;,sans-serif;font-weight:bold;font-size:13.6px" fill="#1897da" stroke="#1897da" stroke-width="0" textLength="149.9" lengthAdjust="spacingAndGlyphs" >Output Match Network</text>
<text x="11.4" y="27.2" style="font-family:&quot;Liberation Serif&quot;,serif;font-size:23.3px;font-weight:bold" fill="#000" text-anchor="start" textLength="25.4" lengthAdjust="spacingAndGlyphs">(a)</text>
<text x="8.3" y="296.2" style="font-family:&quot;Liberation Serif&quot;,serif;font-size:23.3px;font-weight:bold" fill="#000" text-anchor="start" textLength="27.6" lengthAdjust="spacingAndGlyphs">(b)</text>
<text x="355.4" y="296.2" style="font-family:&quot;Liberation Serif&quot;,serif;font-size:23.3px;font-weight:bold" fill="#000" text-anchor="start" textLength="25.3" lengthAdjust="spacingAndGlyphs">(c)</text>
<line x1="106.9" y1="354.5" x2="106.9" y2="383" stroke="#8cc84b" stroke-width="1.6" stroke-dasharray="5.3 4.9"/>
<line x1="124.0" y1="354.5" x2="124.0" y2="383" stroke="#8cc84b" stroke-width="1.6" stroke-dasharray="5.3 4.9"/>
<line x1="115.6" y1="409.5" x2="115.6" y2="515" stroke="#8cc84b" stroke-width="1.6" stroke-dasharray="5.3 4.9"/>
<path d="M56.3,373.7 C57.27,373.18 60.15,371.7 62.1,370.6 C64.05,369.5 66.02,368.38 68,367.1 C69.98,365.82 71.92,364.48 74,362.9 C76.08,361.32 78.53,359.08 80.5,357.6 C82.47,356.12 84.12,355.28 85.8,354 C87.48,352.72 88.82,351.57 90.6,349.9 C92.38,348.23 94.43,345.98 96.5,344 C98.57,342.02 101.23,339.2 103,338 C104.77,336.8 105.72,337 107.1,336.8 C108.48,336.6 109.72,336.3 111.3,336.8 C112.88,337.3 114.92,338.5 116.6,339.8 C118.28,341.1 119.62,342.82 121.4,344.6 C123.18,346.38 125.55,348.52 127.3,350.5 C129.05,352.48 129.98,353.88 131.9,356.5 C133.82,359.12 136.5,363.33 138.8,366.2 C141.1,369.07 143.42,371.3 145.7,373.7 C147.98,376.1 150.22,378.42 152.5,380.6 C154.78,382.78 157.1,384.62 159.4,386.8 C161.7,388.98 164,391.52 166.3,393.7 C168.6,395.88 170.9,397.83 173.2,399.9 C175.5,401.97 177.8,404.03 180.1,406.1 C182.4,408.17 184.72,410.35 187,412.3 C189.28,414.25 192.1,416.47 193.8,417.8 C195.5,419.13 194.78,418.45 197.2,420.3 C199.62,422.15 204.6,426.17 208.3,428.9 C212,431.63 215.68,434.3 219.4,436.7 C223.12,439.1 226.88,441.15 230.6,443.3 C234.32,445.45 238,447.55 241.7,449.6 C245.4,451.65 249.1,453.5 252.8,455.6 C256.5,457.7 260.2,460.17 263.9,462.2 C267.6,464.23 271.3,465.95 275,467.8 C278.7,469.65 282.4,471.53 286.1,473.3 C289.8,475.07 293.5,476.73 297.2,478.4 C300.9,480.07 304.33,481.53 308.3,483.3 C312.27,485.07 318.88,488.05 321,489" fill="none" stroke="#da2020" stroke-width="2" stroke-linejoin="round"/>
<path d="M56.3,410.3 C57.63,410.4 61.8,410.82 64.3,410.9 C66.8,410.98 69.37,411 71.3,410.8 C73.23,410.6 74.35,409.73 75.9,409.7 C77.45,409.67 79,409.98 80.6,410.6 C82.2,411.22 83.93,412.68 85.5,413.4 C87.07,414.12 88.42,414.47 90,414.9 C91.58,415.33 93.73,415.45 95,416 C96.27,416.55 96.68,417 97.6,418.2 C98.52,419.4 99.27,420.87 100.5,423.2 C101.73,425.53 103.67,428.77 105,432.2 C106.33,435.63 107.33,438.37 108.5,443.8 C109.67,449.23 111.03,457.43 112,464.8 C112.97,472.17 113.6,479.28 114.3,488 C115,496.72 115.53,516.32 116.2,517.1 C116.87,517.88 117.45,501.42 118.3,492.7 C119.15,483.98 120.22,472.37 121.3,464.8 C122.38,457.23 123.45,452.35 124.8,447.3 C126.15,442.25 127.47,437.98 129.4,434.5 C131.33,431.02 133.3,428.72 136.4,426.4 C139.5,424.08 144.12,422.03 148,420.6 C151.88,419.17 156.65,418.55 159.7,417.8 C162.75,417.05 163.75,416.57 166.3,416.1 C168.85,415.63 172.7,415.28 175,415 C177.3,414.72 177.88,414.68 180.1,414.4 C182.32,414.12 186.02,413.53 188.3,413.3 C190.58,413.07 190.47,413.13 193.8,413 C197.13,412.87 200.32,412.68 208.3,412.5 C216.28,412.32 230.58,412.07 241.7,411.9 C252.82,411.73 261.78,411.63 275,411.5 C288.22,411.37 313.33,411.17 321,411.1" fill="none" stroke="#1414b0" stroke-width="2.0" stroke-linejoin="round"/>
<line x1="104.92" y1="315.6" x2="104.92" y2="320.2" stroke="#000" stroke-width="1.3" stroke-linecap="butt"/>
<line x1="104.92" y1="528.7" x2="104.92" y2="524.1" stroke="#000" stroke-width="1.3" stroke-linecap="butt"/>
<line x1="158.94" y1="315.6" x2="158.94" y2="320.2" stroke="#000" stroke-width="1.3" stroke-linecap="butt"/>
<line x1="158.94" y1="528.7" x2="158.94" y2="524.1" stroke="#000" stroke-width="1.3" stroke-linecap="butt"/>
<line x1="212.96" y1="315.6" x2="212.96" y2="320.2" stroke="#000" stroke-width="1.3" stroke-linecap="butt"/>
<line x1="212.96" y1="528.7" x2="212.96" y2="524.1" stroke="#000" stroke-width="1.3" stroke-linecap="butt"/>
<line x1="266.98" y1="315.6" x2="266.98" y2="320.2" stroke="#000" stroke-width="1.3" stroke-linecap="butt"/>
<line x1="266.98" y1="528.7" x2="266.98" y2="524.1" stroke="#000" stroke-width="1.3" stroke-linecap="butt"/>
<line x1="77.91" y1="315.6" x2="77.91" y2="318.4" stroke="#000" stroke-width="1.3" stroke-linecap="butt"/>
<line x1="77.91" y1="528.7" x2="77.91" y2="525.9" stroke="#000" stroke-width="1.3" stroke-linecap="butt"/>
<line x1="131.93" y1="315.6" x2="131.93" y2="318.4" stroke="#000" stroke-width="1.3" stroke-linecap="butt"/>
<line x1="131.93" y1="528.7" x2="131.93" y2="525.9" stroke="#000" stroke-width="1.3" stroke-linecap="butt"/>
<line x1="185.95" y1="315.6" x2="185.95" y2="318.4" stroke="#000" stroke-width="1.3" stroke-linecap="butt"/>
<line x1="185.95" y1="528.7" x2="185.95" y2="525.9" stroke="#000" stroke-width="1.3" stroke-linecap="butt"/>
<line x1="239.97" y1="315.6" x2="239.97" y2="318.4" stroke="#000" stroke-width="1.3" stroke-linecap="butt"/>
<line x1="239.97" y1="528.7" x2="239.97" y2="525.9" stroke="#000" stroke-width="1.3" stroke-linecap="butt"/>
<line x1="293.99" y1="315.6" x2="293.99" y2="318.4" stroke="#000" stroke-width="1.3" stroke-linecap="butt"/>
<line x1="293.99" y1="528.7" x2="293.99" y2="525.9" stroke="#000" stroke-width="1.3" stroke-linecap="butt"/>
<line x1="56.3" y1="362.96" x2="60.9" y2="362.96" stroke="#000" stroke-width="1.3" stroke-linecap="butt"/>
<line x1="321" y1="362.96" x2="316.4" y2="362.96" stroke="#000" stroke-width="1.3" stroke-linecap="butt"/>
<line x1="56.3" y1="410.31" x2="60.9" y2="410.31" stroke="#000" stroke-width="1.3" stroke-linecap="butt"/>
<line x1="321" y1="410.31" x2="316.4" y2="410.31" stroke="#000" stroke-width="1.3" stroke-linecap="butt"/>
<line x1="56.3" y1="457.67" x2="60.9" y2="457.67" stroke="#000" stroke-width="1.3" stroke-linecap="butt"/>
<line x1="321" y1="457.67" x2="316.4" y2="457.67" stroke="#000" stroke-width="1.3" stroke-linecap="butt"/>
<line x1="56.3" y1="505.02" x2="60.9" y2="505.02" stroke="#000" stroke-width="1.3" stroke-linecap="butt"/>
<line x1="321" y1="505.02" x2="316.4" y2="505.02" stroke="#000" stroke-width="1.3" stroke-linecap="butt"/>
<line x1="56.3" y1="339.28" x2="59.1" y2="339.28" stroke="#000" stroke-width="1.3" stroke-linecap="butt"/>
<line x1="321" y1="339.28" x2="318.2" y2="339.28" stroke="#000" stroke-width="1.3" stroke-linecap="butt"/>
<line x1="56.3" y1="386.63" x2="59.1" y2="386.63" stroke="#000" stroke-width="1.3" stroke-linecap="butt"/>
<line x1="321" y1="386.63" x2="318.2" y2="386.63" stroke="#000" stroke-width="1.3" stroke-linecap="butt"/>
<line x1="56.3" y1="433.99" x2="59.1" y2="433.99" stroke="#000" stroke-width="1.3" stroke-linecap="butt"/>
<line x1="321" y1="433.99" x2="318.2" y2="433.99" stroke="#000" stroke-width="1.3" stroke-linecap="butt"/>
<line x1="56.3" y1="481.34" x2="59.1" y2="481.34" stroke="#000" stroke-width="1.3" stroke-linecap="butt"/>
<line x1="321" y1="481.34" x2="318.2" y2="481.34" stroke="#000" stroke-width="1.3" stroke-linecap="butt"/>
<rect x="56.3" y="315.6" width="264.7" height="213.1" fill="none" stroke="#000" stroke-width="1.7"/>
<text x="82.6" y="394.7" style="font-family:&quot;Liberation Serif&quot;,serif;font-size:11.8px;font-weight:normal" fill="#cc2e2e" text-anchor="start" textLength="72.0" lengthAdjust="spacingAndGlyphs">BW ~ 200 MHz</text>
<text x="91.0" y="407.9" style="font-family:&quot;Liberation Serif&quot;,serif;font-size:11.8px" fill="#cc2e2e" textLength="54.0" lengthAdjust="spacingAndGlyphs"><tspan font-style="italic">f</tspan> = 1.2 GHz</text>
<line x1="230.4" y1="337.8" x2="277" y2="337.8" stroke="#1414b0" stroke-width="1.8" stroke-linecap="butt"/>
<line x1="230.4" y1="369.6" x2="277" y2="369.6" stroke="#da2020" stroke-width="1.8" stroke-linecap="butt"/>
<text x="283.6" y="345" style="font-family:&quot;Liberation Serif&quot;,serif;font-size:19px;font-weight:normal" fill="#000" text-anchor="start" >S</text>
<text x="295.6" y="352.6" style="font-family:&quot;Liberation Serif&quot;,serif;font-size:11.6px;font-weight:normal" fill="#000" text-anchor="start" >11</text>
<text x="283.6" y="376.9" style="font-family:&quot;Liberation Serif&quot;,serif;font-size:19px;font-weight:normal" fill="#000" text-anchor="start" >S</text>
<text x="295.2" y="384.5" style="font-family:&quot;Liberation Serif&quot;,serif;font-size:11.6px;font-weight:normal" fill="#000" text-anchor="start" >21</text>
<text x="48.4" y="320.2" style="font-family:&quot;Liberation Serif&quot;,serif;font-size:17px;font-weight:normal" fill="#000" text-anchor="end" >20</text>
<text x="48.4" y="367.56" style="font-family:&quot;Liberation Serif&quot;,serif;font-size:17px;font-weight:normal" fill="#000" text-anchor="end" >10</text>
<text x="48.4" y="414.91" style="font-family:&quot;Liberation Serif&quot;,serif;font-size:17px;font-weight:normal" fill="#000" text-anchor="end" >0</text>
<text x="48.4" y="462.27" style="font-family:&quot;Liberation Serif&quot;,serif;font-size:17px;font-weight:normal" fill="#000" text-anchor="end" >-10</text>
<text x="48.4" y="509.62" style="font-family:&quot;Liberation Serif&quot;,serif;font-size:17px;font-weight:normal" fill="#000" text-anchor="end" >-20</text>
<text x="56" y="548.9" style="font-family:&quot;Liberation Serif&quot;,serif;font-size:17px;font-weight:normal" fill="#000" text-anchor="middle" >0.1</text>
<text x="104.62" y="548.9" style="font-family:&quot;Liberation Serif&quot;,serif;font-size:17px;font-weight:normal" fill="#000" text-anchor="middle" >1</text>
<text x="158.64" y="548.9" style="font-family:&quot;Liberation Serif&quot;,serif;font-size:17px;font-weight:normal" fill="#000" text-anchor="middle" >2</text>
<text x="212.66" y="548.9" style="font-family:&quot;Liberation Serif&quot;,serif;font-size:17px;font-weight:normal" fill="#000" text-anchor="middle" >3</text>
<text x="266.68" y="548.9" style="font-family:&quot;Liberation Serif&quot;,serif;font-size:17px;font-weight:normal" fill="#000" text-anchor="middle" >4</text>
<text x="320.7" y="548.9" style="font-family:&quot;Liberation Serif&quot;,serif;font-size:17px;font-weight:normal" fill="#000" text-anchor="middle" >5</text>
<text x="188.6" y="575.5" style="font-family:&quot;Liberation Serif&quot;,serif;font-size:19px;font-weight:normal" fill="#000" text-anchor="middle" >Frequency (GHz)</text>
<text transform="translate(14.4,430.0) rotate(-90)" style="font-family:&quot;Liberation Serif&quot;,serif;font-size:18.8px" text-anchor="middle" textLength="75.5" lengthAdjust="spacingAndGlyphs">Gain (dB)</text>
<path d="M406.5,507.5 C406.63,505.95 406.88,501.35 407.3,498.2 C407.72,495.05 408.32,492.62 409,488.6 C409.68,484.58 410.6,478.92 411.4,474.1 C412.2,469.28 413,464.1 413.8,459.7 C414.6,455.3 415.2,452.1 416.2,447.7 C417.2,443.3 418.4,438.52 419.8,433.3 C421.2,428.08 422.8,422.02 424.6,416.4 C426.4,410.78 428.85,404.03 430.6,399.6 C432.35,395.17 433.35,393.77 435.1,389.8 C436.85,385.83 439.28,380.35 441.1,375.8 C442.92,371.25 444.52,366.03 446,362.5 C447.48,358.97 448.82,357.22 450,354.6 C451.18,351.98 452.07,348.62 453.1,346.8 C454.13,344.98 454.9,345.12 456.2,343.7 C457.5,342.28 459.52,339.25 460.9,338.3 C462.28,337.35 463.38,338.27 464.5,338 C465.62,337.73 466.57,336.53 467.6,336.7 C468.63,336.87 469.48,338.27 470.7,339 C471.92,339.73 473.68,340.32 474.9,341.1 C476.12,341.88 476.88,342.67 478,343.7 C479.12,344.73 480.22,345.67 481.6,347.3 C482.98,348.93 484.65,351.6 486.3,353.5 C487.95,355.4 489.6,356.97 491.5,358.7 C493.4,360.43 495.63,362.25 497.7,363.9 C499.77,365.55 501.83,367.05 503.9,368.6 C505.97,370.15 508.02,371.65 510.1,373.2 C512.18,374.75 512.97,375.73 516.4,377.9 C519.83,380.07 525.78,383.3 530.7,386.2 C535.62,389.1 540.83,392.52 545.9,395.3 C550.97,398.08 556.03,400.52 561.1,402.9 C566.17,405.28 571.23,407.33 576.3,409.6 C581.37,411.87 586.43,413.98 591.5,416.5 C596.57,419.02 601.65,422.27 606.7,424.7 C611.75,427.13 616.75,428.92 621.8,431.1 C626.85,433.28 631.93,435.67 637,437.8 C642.07,439.93 646.68,441.8 652.2,443.9 C657.72,446 667.12,449.32 670.1,450.4" fill="none" stroke="#da2020" stroke-width="2" stroke-linejoin="round"/>
<line x1="454.92" y1="315.6" x2="454.92" y2="320.2" stroke="#000" stroke-width="1.3" stroke-linecap="butt"/>
<line x1="454.92" y1="527.7" x2="454.92" y2="523.1" stroke="#000" stroke-width="1.3" stroke-linecap="butt"/>
<line x1="508.71" y1="315.6" x2="508.71" y2="320.2" stroke="#000" stroke-width="1.3" stroke-linecap="butt"/>
<line x1="508.71" y1="527.7" x2="508.71" y2="523.1" stroke="#000" stroke-width="1.3" stroke-linecap="butt"/>
<line x1="562.51" y1="315.6" x2="562.51" y2="320.2" stroke="#000" stroke-width="1.3" stroke-linecap="butt"/>
<line x1="562.51" y1="527.7" x2="562.51" y2="523.1" stroke="#000" stroke-width="1.3" stroke-linecap="butt"/>
<line x1="616.3" y1="315.6" x2="616.3" y2="320.2" stroke="#000" stroke-width="1.3" stroke-linecap="butt"/>
<line x1="616.3" y1="527.7" x2="616.3" y2="523.1" stroke="#000" stroke-width="1.3" stroke-linecap="butt"/>
<line x1="428.02" y1="315.6" x2="428.02" y2="318.4" stroke="#000" stroke-width="1.3" stroke-linecap="butt"/>
<line x1="428.02" y1="527.7" x2="428.02" y2="524.9" stroke="#000" stroke-width="1.3" stroke-linecap="butt"/>
<line x1="481.81" y1="315.6" x2="481.81" y2="318.4" stroke="#000" stroke-width="1.3" stroke-linecap="butt"/>
<line x1="481.81" y1="527.7" x2="481.81" y2="524.9" stroke="#000" stroke-width="1.3" stroke-linecap="butt"/>
<line x1="535.61" y1="315.6" x2="535.61" y2="318.4" stroke="#000" stroke-width="1.3" stroke-linecap="butt"/>
<line x1="535.61" y1="527.7" x2="535.61" y2="524.9" stroke="#000" stroke-width="1.3" stroke-linecap="butt"/>
<line x1="589.41" y1="315.6" x2="589.41" y2="318.4" stroke="#000" stroke-width="1.3" stroke-linecap="butt"/>
<line x1="589.41" y1="527.7" x2="589.41" y2="524.9" stroke="#000" stroke-width="1.3" stroke-linecap="butt"/>
<line x1="643.2" y1="315.6" x2="643.2" y2="318.4" stroke="#000" stroke-width="1.3" stroke-linecap="butt"/>
<line x1="643.2" y1="527.7" x2="643.2" y2="524.9" stroke="#000" stroke-width="1.3" stroke-linecap="butt"/>
<line x1="406.5" y1="345.9" x2="411.1" y2="345.9" stroke="#000" stroke-width="1.3" stroke-linecap="butt"/>
<line x1="670.1" y1="345.9" x2="665.5" y2="345.9" stroke="#000" stroke-width="1.3" stroke-linecap="butt"/>
<line x1="406.5" y1="376.2" x2="411.1" y2="376.2" stroke="#000" stroke-width="1.3" stroke-linecap="butt"/>
<line x1="670.1" y1="376.2" x2="665.5" y2="376.2" stroke="#000" stroke-width="1.3" stroke-linecap="butt"/>
<line x1="406.5" y1="406.5" x2="411.1" y2="406.5" stroke="#000" stroke-width="1.3" stroke-linecap="butt"/>
<line x1="670.1" y1="406.5" x2="665.5" y2="406.5" stroke="#000" stroke-width="1.3" stroke-linecap="butt"/>
<line x1="406.5" y1="436.8" x2="411.1" y2="436.8" stroke="#000" stroke-width="1.3" stroke-linecap="butt"/>
<line x1="670.1" y1="436.8" x2="665.5" y2="436.8" stroke="#000" stroke-width="1.3" stroke-linecap="butt"/>
<line x1="406.5" y1="467.1" x2="411.1" y2="467.1" stroke="#000" stroke-width="1.3" stroke-linecap="butt"/>
<line x1="670.1" y1="467.1" x2="665.5" y2="467.1" stroke="#000" stroke-width="1.3" stroke-linecap="butt"/>
<line x1="406.5" y1="497.4" x2="411.1" y2="497.4" stroke="#000" stroke-width="1.3" stroke-linecap="butt"/>
<line x1="670.1" y1="497.4" x2="665.5" y2="497.4" stroke="#000" stroke-width="1.3" stroke-linecap="butt"/>
<line x1="406.5" y1="330.75" x2="409.3" y2="330.75" stroke="#000" stroke-width="1.3" stroke-linecap="butt"/>
<line x1="670.1" y1="330.75" x2="667.3" y2="330.75" stroke="#000" stroke-width="1.3" stroke-linecap="butt"/>
<line x1="406.5" y1="361.05" x2="409.3" y2="361.05" stroke="#000" stroke-width="1.3" stroke-linecap="butt"/>
<line x1="670.1" y1="361.05" x2="667.3" y2="361.05" stroke="#000" stroke-width="1.3" stroke-linecap="butt"/>
<line x1="406.5" y1="391.35" x2="409.3" y2="391.35" stroke="#000" stroke-width="1.3" stroke-linecap="butt"/>
<line x1="670.1" y1="391.35" x2="667.3" y2="391.35" stroke="#000" stroke-width="1.3" stroke-linecap="butt"/>
<line x1="406.5" y1="421.65" x2="409.3" y2="421.65" stroke="#000" stroke-width="1.3" stroke-linecap="butt"/>
<line x1="670.1" y1="421.65" x2="667.3" y2="421.65" stroke="#000" stroke-width="1.3" stroke-linecap="butt"/>
<line x1="406.5" y1="451.95" x2="409.3" y2="451.95" stroke="#000" stroke-width="1.3" stroke-linecap="butt"/>
<line x1="670.1" y1="451.95" x2="667.3" y2="451.95" stroke="#000" stroke-width="1.3" stroke-linecap="butt"/>
<line x1="406.5" y1="482.25" x2="409.3" y2="482.25" stroke="#000" stroke-width="1.3" stroke-linecap="butt"/>
<line x1="670.1" y1="482.25" x2="667.3" y2="482.25" stroke="#000" stroke-width="1.3" stroke-linecap="butt"/>
<line x1="406.5" y1="512.55" x2="409.3" y2="512.55" stroke="#000" stroke-width="1.3" stroke-linecap="butt"/>
<line x1="670.1" y1="512.55" x2="667.3" y2="512.55" stroke="#000" stroke-width="1.3" stroke-linecap="butt"/>
<rect x="406.5" y="315.6" width="263.6" height="212.1" fill="none" stroke="#000" stroke-width="1.7"/>
<text x="397" y="319.8" style="font-family:&quot;Liberation Serif&quot;,serif;font-size:17px;font-weight:normal" fill="#000" text-anchor="end" textLength="21.7" lengthAdjust="spacingAndGlyphs">-20</text>
<text x="397" y="350.1" style="font-family:&quot;Liberation Serif&quot;,serif;font-size:17px;font-weight:normal" fill="#000" text-anchor="end" textLength="21.7" lengthAdjust="spacingAndGlyphs">-25</text>
<text x="397" y="380.4" style="font-family:&quot;Liberation Serif&quot;,serif;font-size:17px;font-weight:normal" fill="#000" text-anchor="end" textLength="21.7" lengthAdjust="spacingAndGlyphs">-30</text>
<text x="397" y="410.7" style="font-family:&quot;Liberation Serif&quot;,serif;font-size:17px;font-weight:normal" fill="#000" text-anchor="end" textLength="21.7" lengthAdjust="spacingAndGlyphs">-35</text>
<text x="397" y="441" style="font-family:&quot;Liberation Serif&quot;,serif;font-size:17px;font-weight:normal" fill="#000" text-anchor="end" textLength="21.7" lengthAdjust="spacingAndGlyphs">-40</text>
<text x="397" y="471.3" style="font-family:&quot;Liberation Serif&quot;,serif;font-size:17px;font-weight:normal" fill="#000" text-anchor="end" textLength="21.7" lengthAdjust="spacingAndGlyphs">-45</text>
<text x="397" y="501.6" style="font-family:&quot;Liberation Serif&quot;,serif;font-size:17px;font-weight:normal" fill="#000" text-anchor="end" textLength="21.7" lengthAdjust="spacingAndGlyphs">-50</text>
<text x="397" y="531.9" style="font-family:&quot;Liberation Serif&quot;,serif;font-size:17px;font-weight:normal" fill="#000" text-anchor="end" textLength="21.7" lengthAdjust="spacingAndGlyphs">-55</text>
<text x="406.2" y="548.3" style="font-family:&quot;Liberation Serif&quot;,serif;font-size:17px;font-weight:normal" fill="#000" text-anchor="middle" >0.1</text>
<text x="454.62" y="548.3" style="font-family:&quot;Liberation Serif&quot;,serif;font-size:17px;font-weight:normal" fill="#000" text-anchor="middle" >1</text>
<text x="508.41" y="548.3" style="font-family:&quot;Liberation Serif&quot;,serif;font-size:17px;font-weight:normal" fill="#000" text-anchor="middle" >2</text>
<text x="562.21" y="548.3" style="font-family:&quot;Liberation Serif&quot;,serif;font-size:17px;font-weight:normal" fill="#000" text-anchor="middle" >3</text>
<text x="616" y="548.3" style="font-family:&quot;Liberation Serif&quot;,serif;font-size:17px;font-weight:normal" fill="#000" text-anchor="middle" >4</text>
<text x="669.8" y="548.3" style="font-family:&quot;Liberation Serif&quot;,serif;font-size:17px;font-weight:normal" fill="#000" text-anchor="middle" >5</text>
<text x="538.6" y="571.5" style="font-family:&quot;Liberation Serif&quot;,serif;font-size:19px;font-weight:normal" fill="#000" text-anchor="middle" >Frequency (GHz)</text>
<text transform="translate(361.4,423.3) rotate(-90)" style="font-family:&quot;Liberation Serif&quot;,serif;font-size:18.3px" text-anchor="middle" textLength="205" lengthAdjust="spacingAndGlyphs">Input Output Isolation (dB)</text>
</svg>
</body></html>
